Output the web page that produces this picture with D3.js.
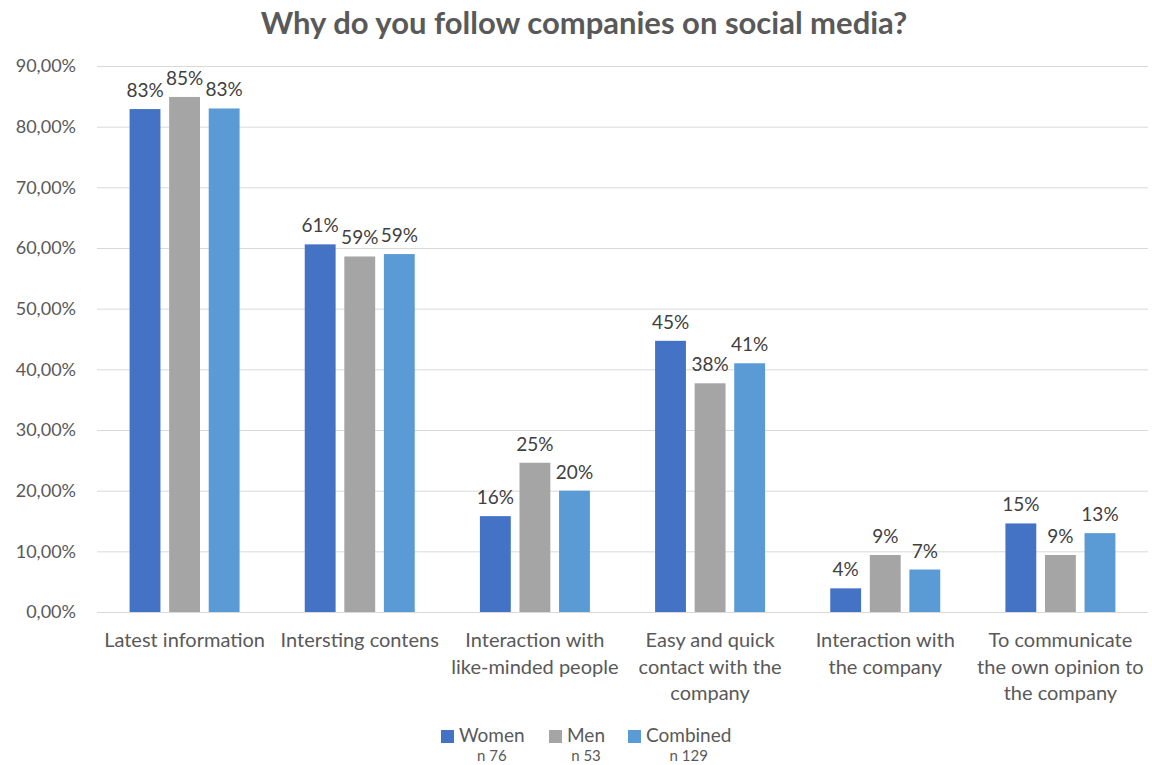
<!DOCTYPE html>
<html>
<head>
<meta charset="utf-8">
<script src="https://cdn.jsdelivr.net/npm/d3@7"></script>
<style>
  html, body { margin: 0; padding: 0; background: #fff; }
  svg { display: block; font-family: Lato, "Open Sans", sans-serif; }
</style>
</head>
<body>
<svg id="chart" width="1152" height="765"></svg>
<script>
// Survey answers, share of respondents in percent
const categories = [
  ["Latest information"],
  ["Intersting contens"],
  ["Interaction with", "like-minded people"],
  ["Easy and quick", "contact with the", "company"],
  ["Interaction with", "the company"],
  ["To communicate", "the own opinion to", "the company"]
];
const seriesNames = ["Women", "Men", "Combined"];
const sampleSizes = ["n 76", "n 53", "n 129"];
const women    = [82.9, 60.6, 15.8, 44.7, 3.9, 14.6];
const men      = [84.9, 58.6, 24.6, 37.7, 9.4, 9.4];
const combined = [83.0, 59.0, 20.0, 41.0, 7.0, 13.0];
const yTicks = [0, 10, 20, 30, 40, 50, 60, 70, 80, 90];
const colors = ["#4472C4", "#A5A5A5", "#5B9BD5"];

const series = [women, men, combined];
const svg = d3.select("#chart");
const margin = { left: 97, right: 4, top: 66, bottom: 153 };
const W = 1152, H = 765;
const plotBottom = H - margin.bottom;

const x = d3.scaleBand()
  .domain(d3.range(categories.length))
  .range([margin.left, W - margin.right])
  .paddingInner(0).paddingOuter(0);

const xs = d3.scaleBand()
  .domain(d3.range(series.length))
  .range([0, 110])
  .paddingInner(0.22);

const y = d3.scaleLinear().domain([0, 90]).range([plotBottom, margin.top]);

// Title
svg.append("text")
  .attr("x", 584).attr("y", 34)
  .attr("text-anchor", "middle")
  .attr("font-size", 31).attr("font-weight", 700)
  .attr("fill", "#595959")
  .text("Why do you follow companies on social media?");

// Gridlines and value axis
const yAxis = d3.axisLeft(y)
  .tickValues(yTicks)
  .tickSize(-(W - margin.right - margin.left))
  .tickPadding(21)
  .tickFormat(d => d.toFixed(2).replace(".", ",") + "%");

const gy = svg.append("g")
  .attr("transform", `translate(${margin.left},0)`)
  .call(yAxis);
gy.select(".domain").remove();
gy.selectAll(".tick line").attr("stroke", "#d9d9d9").attr("stroke-width", 1);
gy.selectAll(".tick text")
  .attr("font-size", 18).attr("fill", "#595959")
  .attr("font-family", "Lato, 'Open Sans', sans-serif");

// Bars
const groups = svg.append("g").selectAll("g")
  .data(categories)
  .join("g")
  .attr("transform", (d, i) => `translate(${x(i) + x.bandwidth() / 2 - 55},0)`);

groups.each(function (c, i) {
  const g = d3.select(this);
  series.forEach((s, k) => {
    const v = s[i];
    g.append("rect")
      .attr("x", xs(k))
      .attr("y", y(v))
      .attr("width", xs.bandwidth())
      .attr("height", y(0) - y(v))
      .attr("fill", colors[k]);
    g.append("text")
      .attr("x", xs(k) + xs.bandwidth() / 2)
      .attr("y", y(v) - 12)
      .attr("text-anchor", "middle")
      .attr("font-size", 19)
      .attr("fill", "#404040")
      .text(Math.round(v) + "%");
  });
});

// Category axis labels
const catG = svg.append("g");
categories.forEach((lines, i) => {
  const t = catG.append("text")
    .attr("text-anchor", "middle")
    .attr("font-size", 20)
    .attr("fill", "#595959");
  lines.forEach((line, j) => {
    t.append("tspan")
      .attr("x", x(i) + x.bandwidth() / 2)
      .attr("y", 647 + j * 26.5)
      .text(line);
  });
});

// Legend
const legendX = [441, 549, 628];
const legend = svg.append("g");
seriesNames.forEach((name, k) => {
  const lg = legend.append("g").attr("transform", `translate(${legendX[k]},0)`);
  lg.append("rect")
    .attr("x", 0).attr("y", 730)
    .attr("width", 13).attr("height", 13)
    .attr("fill", colors[k]);
  const label = lg.append("text")
    .attr("x", 18).attr("y", 742)
    .attr("font-size", 19).attr("fill", "#595959")
    .text(name);
  const w = label.node().getComputedTextLength();
  lg.append("text")
    .attr("x", 18 + w / 2).attr("y", 761)
    .attr("text-anchor", "middle")
    .attr("font-size", 15).attr("fill", "#595959")
    .text(sampleSizes[k]);
});
</script>
</body>
</html>
